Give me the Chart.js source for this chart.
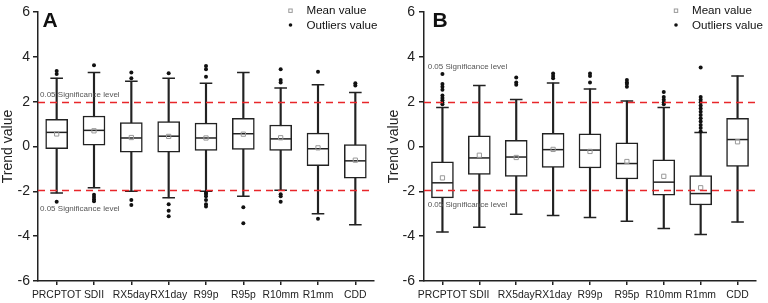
<!DOCTYPE html>
<html><head><meta charset="utf-8">
<script src="https://cdn.jsdelivr.net/npm/chart.js@4.4.0/dist/chart.umd.min.js"></script>
<style>
html,body{margin:0;padding:0;background:#fff;width:768px;height:303px;overflow:hidden}
.p{position:absolute;top:0}
</style></head><body>
<div class="p" style="left:0"><canvas id="cA" width="386" height="303" style="width:386px;height:303px"></canvas></div>
<div class="p" style="left:386px"><canvas id="cB" width="382" height="303" style="width:382px;height:303px"></canvas></div>
<script>
const categories = ['PRCPTOT','SDII','RX5day','RX1day','R99p','R95p','R10mm','R1mm','CDD'];
const yTicks = [-6,-4,-2,0,2,4,6];
const sigLevel = 1.96;
const sigText = '0.05 Significance level';

// Panel A
const minA  = [-2.07,-1.84,-2.00,-2.29,-2.00,-2.22,-1.95,-3.00,-3.49];
const q1A   = [-0.10, 0.06,-0.25,-0.25,-0.18,-0.13,-0.18,-0.86,-1.41];
const medA  = [ 0.63, 0.72, 0.38, 0.46, 0.38, 0.57, 0.34,-0.10,-0.64];
const q3A   = [ 1.21, 1.36, 1.07, 1.11, 1.04, 1.26, 0.96, 0.60, 0.09];
const maxA  = [ 3.05, 3.30, 2.91, 3.04, 2.82, 3.30, 2.61, 2.76, 2.41];
const meanA = [ 0.56, 0.70, 0.40, 0.45, 0.38, 0.55, 0.39,-0.06,-0.61];
const outA  = [
  [3.37,3.23,-2.47],
  [3.62,-2.15,-2.25,-2.35,-2.44],
  [3.30,3.05,-2.39,-2.61],
  [3.27,-2.58,-2.87,-3.11],
  [3.59,3.45,3.11,-2.06,-2.12,-2.22,-2.39,-2.58,-2.68],
  [-2.71,-3.42],
  [3.45,2.97,2.86,-2.13,-2.22,-2.47],
  [3.33,-3.22],
  [2.82,2.72]
];

// Panel B
const minB  = [-3.81,-3.60,-3.02,-3.08,-3.17,-3.34,-3.66,-3.93,-3.37];
const q1B   = [-2.29,-1.25,-1.33,-0.93,-0.96,-1.45,-2.17,-2.61,-0.89];
const medB  = [-1.62,-0.51,-0.47,-0.14,-0.16,-0.76,-1.59,-2.10, 0.31];
const q3B   = [-0.68, 0.48, 0.28, 0.59, 0.56, 0.16,-0.60,-1.30, 1.26];
const maxB  = [ 1.74, 2.72, 2.10, 2.83, 2.57, 2.03, 1.74, 0.63, 3.15];
const meanB = [-1.40,-0.39,-0.49,-0.13,-0.22,-0.67,-1.33,-1.84, 0.21];
const outB  = [
  [3.23,2.79,2.67,2.53,2.28,2.16,2.06,1.96,1.88],
  [],
  [3.08,2.86,2.76],
  [3.26,3.15,3.05],
  [3.26,3.15,2.86],
  [2.97,2.86,2.79,2.67],
  [2.43,2.21,2.09,1.97,1.88],
  [3.52,2.21,2.09,1.97,1.83,1.70,1.55,1.40,1.26,1.11,0.96,0.82,0.67],
  []
];

const FONT = '"Liberation Sans", Arial, sans-serif';
const INK = '#222';

function buildDatasets(mn, q1, md, q3, mx, mean, out) {
  const outPts = [];
  out.forEach((arr, i) => arr.forEach(v => outPts.push({x: categories[i], y: v})));
  return [
    { type: 'line', xAxisID: 'x2', data: [{x:0,y:sigLevel},{x:1,y:sigLevel}], borderColor: '#e8262a',
      borderWidth: 1.5, borderDash: [7,5], pointRadius: 0, order: 0 },
    { type: 'line', xAxisID: 'x2', data: [{x:0,y:-sigLevel},{x:1,y:-sigLevel}], borderColor: '#e8262a',
      borderWidth: 1.5, borderDash: [7,5], pointRadius: 0, order: 0 },
    { type: 'bar', data: mn.map((v,i)=>[v, mx[i]]), backgroundColor: INK, borderWidth: 0,
      barThickness: 1.5, grouped: false, order: 9 },
    { type: 'bar', data: q1.map((v,i)=>[v, q3[i]]), backgroundColor: '#fff', borderColor: INK,
      borderWidth: 1.5, borderSkipped: false, barThickness: 22, grouped: false, order: 8 },
    { type: 'line', data: md, showLine: false, pointStyle: 'line', pointRadius: 10.5,
      borderColor: INK, borderWidth: 1.5, order: 7 },
    { type: 'line', data: mx, showLine: false, pointStyle: 'line', pointRadius: 6.3,
      borderColor: INK, borderWidth: 1.5, order: 7 },
    { type: 'line', data: mn, showLine: false, pointStyle: 'line', pointRadius: 6.3,
      borderColor: INK, borderWidth: 1.5, order: 7 },
    { type: 'line', data: mean, showLine: false, pointStyle: 'rect', pointRadius: 3,
      borderColor: '#999', backgroundColor: 'rgba(255,255,255,0)', borderWidth: 1, order: 6 },
    { type: 'line', data: outPts, showLine: false, pointStyle: 'circle', pointRadius: 2,
      borderColor: '#111', backgroundColor: '#111', borderWidth: 0, order: 5 }
  ];
}

const annot = {
  id: 'annot',
  afterDraw(chart, args, o) {
    const ctx = chart.ctx, ca = chart.chartArea, ys = chart.scales.y;
    ctx.save();
    ctx.textAlign = 'left';
    ctx.font = 'bold 21px ' + FONT;
    ctx.fillStyle = '#111';
    ctx.textBaseline = 'alphabetic';
    ctx.fillText(o.letter, o.letterX, 27);
    ctx.font = '8px ' + FONT;
    ctx.fillStyle = '#555';
    ctx.textBaseline = 'middle';
    o.sigY.forEach(v => ctx.fillText(sigText, ca.left + o.sigDx, ys.getPixelForValue(v)));
    const lx = o.legendX;
    ctx.strokeStyle = '#999'; ctx.lineWidth = 1;
    ctx.strokeRect(lx - 1.7, 9, 3.4, 3.4);
    ctx.fillStyle = '#111';
    ctx.beginPath(); ctx.arc(lx, 25, 1.8, 0, Math.PI * 2); ctx.fill();
    ctx.font = '11.6px ' + FONT;
    ctx.fillStyle = '#111';
    ctx.fillText('Mean value', lx + 16, 11);
    ctx.fillText('Outliers value', lx + 16, 25.5);
    ctx.restore();
  }
};

function makeChart(id, data, padRight, tickPad, ann) {
  return new Chart(document.getElementById(id), {
    data: { labels: categories, datasets: data },
    options: {
      responsive: false, animation: false, devicePixelRatio: 1,
      events: [],
      layout: { padding: { top: 7, right: padRight, left: 0, bottom: 0 } },
      plugins: { legend: { display: false }, tooltip: { enabled: false }, annot: ann },
      scales: {
        x: {
          type: 'category', offset: true,
          grid: { display: true, drawOnChartArea: false, drawTicks: true, tickLength: 4, offset: false, color: INK, lineWidth: 1.5 },
          border: { display: true, color: INK, width: 1.5 },
          ticks: { color: INK, font: { family: FONT, size: 10.4 }, padding: 4, maxRotation: 0, autoSkip: false },
          afterFit(s) { s.height = 22; }
        },
        x2: { type: 'linear', display: false, min: 0, max: 1 },
        y: {
          min: -6, max: 6,
          afterBuildTicks(s) { s.ticks = yTicks.map(v => ({ value: v })); },
          grid: { display: true, drawOnChartArea: false, drawTicks: true, tickLength: 5, color: INK, lineWidth: 1.5 },
          border: { display: true, color: INK, width: 1.5 },
          ticks: { color: INK, font: { family: FONT, size: 14, lineHeight: 1 }, padding: tickPad },
          title: { display: true, text: 'Trend value', color: INK, font: { family: FONT, size: 14, lineHeight: 1.1 }, padding: { top: 0, bottom: 0 } },
          afterFit(s) { s.width = 38; }
        }
      }
    },
    plugins: [annot]
  });
}

makeChart('cA', buildDatasets(minA, q1A, medA, q3A, maxA, meanA, outA), 6, 3,
  { letter: 'A', letterX: 42.5, sigDx: 2, sigY: [2.31, -2.80], legendX: 290.5 });
makeChart('cB', buildDatasets(minB, q1B, medB, q3B, maxB, meanB, outB), 2, 4,
  { letter: 'B', letterX: 46.5, sigDx: 3.7, sigY: [3.55, -2.61], legendX: 290 });
</script>
</body></html>
